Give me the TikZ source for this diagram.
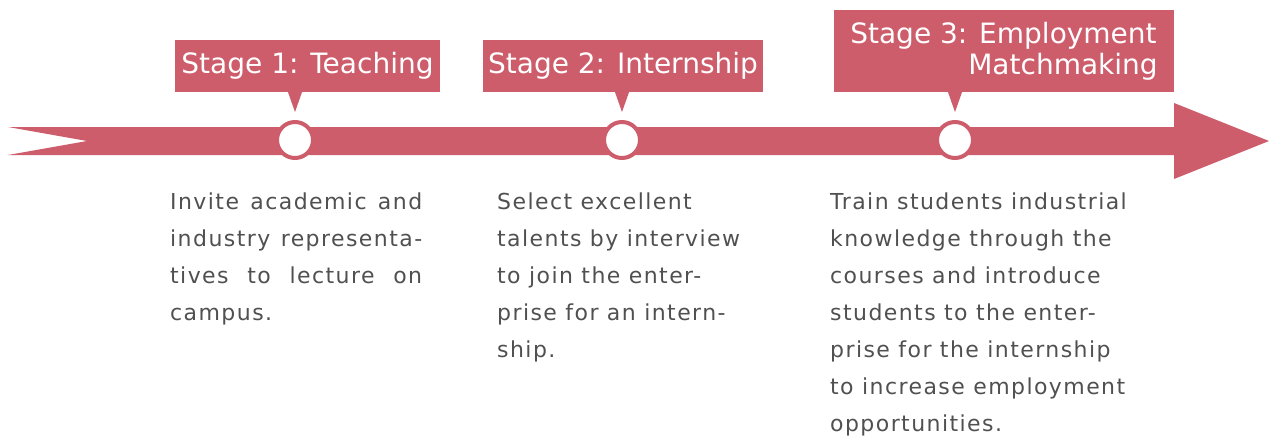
\documentclass[tikz,border=0pt]{standalone}
\usepackage{fontspec}
\setmainfont{DejaVu Sans}
\newfontfamily\descfont[LetterSpace=6.5]{DejaVu Sans}
\usetikzlibrary{positioning}
\definecolor{stagepink}{RGB}{206,93,108}
\definecolor{textgray}{RGB}{80,80,80}
\begin{document}
\begin{tikzpicture}[x=1pt,y=-1pt,
  stage/.style={fill=stagepink,text=white,font=\fontsize{28}{31}\selectfont,inner sep=0pt,align=center,minimum height=52pt},
  ring/.style={circle,fill=white,draw=stagepink,line width=4pt,minimum size=36pt,inner sep=0pt},
  desc/.style={text=textgray,font=\descfont\fontsize{22}{37}\selectfont,inner sep=0pt,anchor=north west,align=left}]
\useasboundingbox (0,0) rectangle (1269,439);
% timeline arrow
\fill[stagepink] (8,127) -- (1174,127) -- (1174,103) -- (1269,141) -- (1174,179) -- (1174,155) -- (8,155) -- (87,141) -- cycle;
\node[ring](c1) at (295,140){};
\node[ring](c2) at (622,140){};
\node[ring](c3) at (955,140){};
% stage labels
\node[stage,minimum width=265pt](s1) at (307.5,66){Stage 1: Teaching};
\node[stage,minimum width=280pt](s2) at (623,66){Stage 2: Internship};
\node[stage,minimum width=340pt,minimum height=82pt,align=left](s3) at (1004,51){Stage 3: Employment\\\hspace*{118pt}Matchmaking};
\foreach \c/\s in {c1/s1,c2/s2,c3/s3}
  \fill[stagepink] ([xshift=-7pt]\c |- \s.south) -- ([xshift=7pt]\c |- \s.south) -- ([yshift=8pt]\c.north) -- cycle;
% descriptions
\node[desc,align=justify,text width=252pt](t1) at (170,193){Invite academic and\linebreak industry representa-\linebreak tives to lecture on\linebreak campus.};
\node[desc](t2) at (497,193){Select excellent\\talents by interview\\to join the enter-\\prise for an intern-\\ship.};
\node[desc](t3) at (830,193){Train students industrial\\knowledge through the\\courses and introduce\\students to the enter-\\prise for the internship\\to increase employment\\opportunities.};
\end{tikzpicture}
\end{document}
